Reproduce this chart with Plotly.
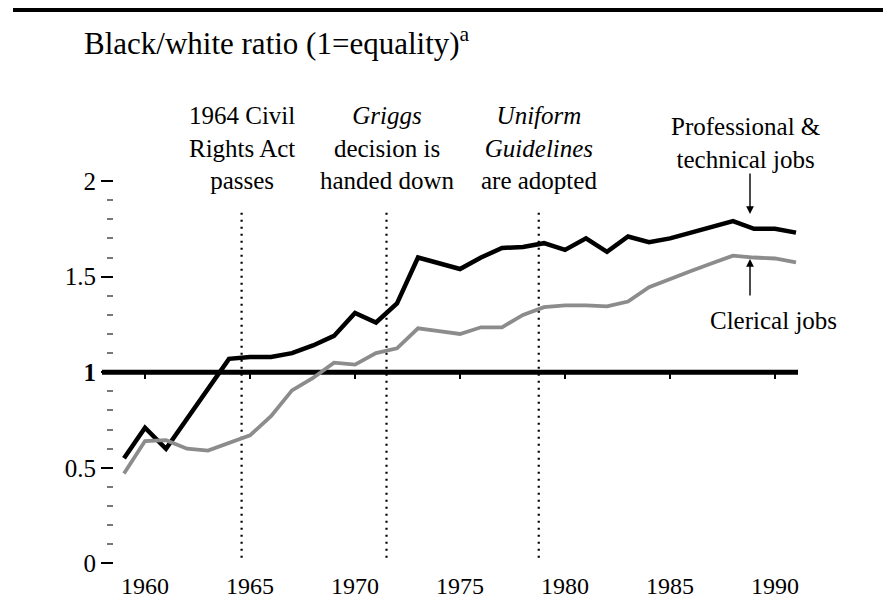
import plotly.graph_objects as go
import numpy as np

# ---------------- data ----------------
years = list(range(1959, 1992))
prof_tech = [0.55, 0.71, 0.60, 0.76, 0.91, 1.07, 1.08, 1.08, 1.10, 1.14, 1.19, 1.31, 1.26,
             1.36, 1.60, 1.57, 1.54, 1.60, 1.65, 1.655, 1.675, 1.64, 1.70, 1.63, 1.71,
             1.68, 1.70, 1.73, 1.76, 1.79, 1.75, 1.75, 1.73]
clerical = [0.47, 0.64, 0.645, 0.60, 0.59, 0.63, 0.67, 0.77, 0.905, 0.97, 1.05, 1.04, 1.10,
            1.125, 1.23, 1.215, 1.20, 1.235, 1.235, 1.30, 1.34, 1.35, 1.35, 1.345, 1.37,
            1.445, 1.49, 1.53, 1.57, 1.61, 1.60, 1.595, 1.575]
event_years = [1964.6, 1971.5, 1978.75]
event_labels = ["1964 Civil<br>Rights Act<br>passes",
                "<i>Griggs</i><br>decision is<br>handed down",
                "<i>Uniform</i><br><i>Guidelines</i><br>are adopted"]
x_tick_vals = [1960, 1965, 1970, 1975, 1980, 1985, 1990]
y_tick_vals = [0, 0.5, 1, 1.5, 2]
y_tick_text = ["0", "0.5", "<b>1</b>", "1.5", "2"]
title_text = "Black/white ratio (1=equality)<sup>a</sup>"
equality = 1

# ---------------- layout geometry (page has an 8px body margin) ----------------
OFF = 8
W, H = 891 - OFF, 600 - OFF
# plot area in window pixels: left 114, right 820, top 95, bottom 573
ML, MR, MT, MB = 114 - OFF, 891 - 820, 95 - OFF, 600 - 573
XR = [1958.524, 1992.143]
YR = [-0.05, 2.45]
PW = W - ML - MR
PH = H - MT - MB

def xp(px):
    return (px - OFF - ML) / PW

def yp(py):
    return (H - MB - (py - OFF)) / PH

FONT = "Liberation Serif, Times New Roman, serif"
FS = 25

fig = go.Figure()
fig.add_trace(go.Scatter(x=years, y=clerical, mode="lines",
                         line=dict(color="#8c8c8c", width=3.8),
                         xaxis="x2", yaxis="y", hoverinfo="skip"))
fig.add_trace(go.Scatter(x=years, y=prof_tech, mode="lines",
                         line=dict(color="black", width=4.5),
                         hoverinfo="skip"))

shapes = []
# equality line
shapes.append(dict(type="line", xref="paper", yref="y", x0=xp(102), x1=xp(798),
                   y0=equality, y1=equality, line=dict(color="black", width=5),
                   layer="below"))
# event dotted lines
for ey in event_years:
    shapes.append(dict(type="line", xref="x", yref="y", x0=ey, x1=ey, y0=0.03, y1=1.84,
                       line=dict(color="black", width=2.2, dash="2px,5px"), layer="below"))
# top rule
shapes.append(dict(type="line", xref="paper", yref="paper", x0=xp(13), x1=xp(891),
                   y0=yp(10), y1=yp(10), line=dict(color="black", width=4)))

annotations = []
annotations.append(dict(text=title_text, xref="paper", yref="paper", x=xp(82), y=yp(41),
                        xanchor="left", yanchor="middle", showarrow=False,
                        font=dict(family=FONT, size=31, color="black")))
for ey, lab in zip(event_years, event_labels):
    annotations.append(dict(text=lab, xref="x", yref="paper", x=ey, y=yp(148),
                            xanchor="center", yanchor="middle", showarrow=False,
                            font=dict(family=FONT, size=FS, color="black")))
annotations.append(dict(text="Professional &<br>technical jobs", xref="paper", yref="paper",
                        x=xp(745), y=yp(142.5), xanchor="center", yanchor="middle",
                        showarrow=False, font=dict(family=FONT, size=FS, color="black")))
annotations.append(dict(text="Clerical jobs", xref="paper", yref="paper",
                        x=xp(773), y=yp(320), xanchor="center", yanchor="middle",
                        showarrow=False, font=dict(family=FONT, size=FS, color="black")))
# arrows
annotations.append(dict(text="", xref="paper", yref="paper", x=xp(750), y=yp(214),
                        ax=0, ay=-42, showarrow=True, arrowhead=2, arrowsize=1.1,
                        arrowwidth=1.4, arrowcolor="black"))
annotations.append(dict(text="", xref="paper", yref="paper", x=xp(750), y=yp(259),
                        ax=0, ay=38, showarrow=True, arrowhead=2, arrowsize=1.1,
                        arrowwidth=1.4, arrowcolor="black"))

minor_vals = [round(v, 2) for v in np.arange(0.1, 2.0, 0.1) if abs(v * 2 - round(v * 2)) > 1e-6]

fig.update_layout(
    width=W, height=H, autosize=False,
    margin=dict(l=ML, r=MR, t=MT, b=MB, pad=0, autoexpand=False),
    paper_bgcolor="white", plot_bgcolor="white",
    showlegend=False,
    shapes=shapes, annotations=annotations,
    xaxis=dict(range=XR, tickvals=x_tick_vals, ticks="", showline=False, showgrid=False,
               zeroline=False, automargin=False, ticklabelstandoff=-4,
               tickfont=dict(family=FONT, size=24, color="black")),
    xaxis2=dict(range=XR, overlaying="x", matches="x", anchor="free",
                position=(equality - YR[0]) / (YR[1] - YR[0]), side="bottom",
                tickvals=x_tick_vals, ticks="outside", ticklen=6, tickwidth=2,
                tickcolor="black", showticklabels=False, showline=False, showgrid=False,
                zeroline=False, automargin=False),
    yaxis=dict(range=YR, tickvals=y_tick_vals, ticktext=y_tick_text, ticks="outside",
               ticklen=12, tickwidth=2, tickcolor="black", showline=False, showgrid=False,
               zeroline=False, automargin=False,
               tickfont=dict(family=FONT, size=FS, color="black"),
               minor=dict(tickvals=minor_vals, ticks="outside", ticklen=6, tickwidth=2,
                          tickcolor="#777", showgrid=False)),
)

fig.write_html("out.html")
